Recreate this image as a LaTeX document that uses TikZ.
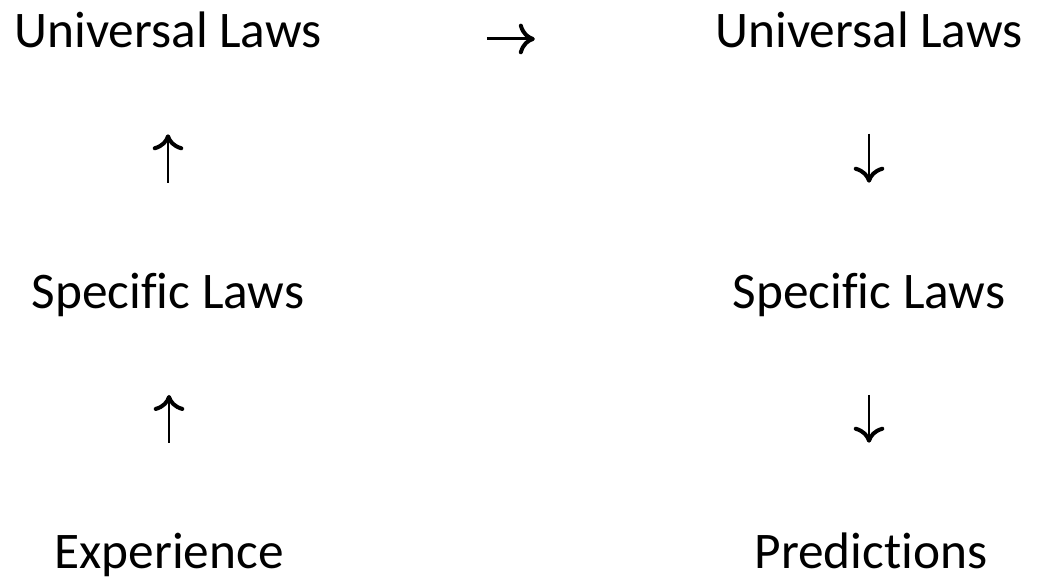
\documentclass[tikz,border=0pt]{standalone}
\usepackage{fontspec}
\setmainfont{Carlito}[Ligatures=CommonOff]
\usetikzlibrary{arrows.meta}
\tikzset{
  lbl/.style={font=\fontsize{38.5}{46}\selectfont, inner sep=0pt, anchor=base,
    text height=24.75pt, text depth=0pt},
  arr/.style={line width=2.2pt, -{Computer Modern Rightarrow[length=12pt,width=23pt,line width=3pt]}}
}
\begin{document}
\begin{tikzpicture}[x=0.75pt,y=-0.75pt]
\useasboundingbox (0,0) rectangle (1037,581);
\node[lbl] (ulL) at (168,48) {Universal Laws};
\node[lbl] (ulR) at (869,48) {Universal Laws};
\node[lbl] (spL) at (168,308) {Specific Laws};
\node[lbl] (spR) at (869,308) {Specific Laws};
\node[lbl] (exp) at (169,568) {Experience};
\node[lbl] (pred) at (871,568) {Predictions};
\draw[arr, shorten <=69pt, shorten >=64.5pt] (spL.north) -- (spL.north |- ulL.south);
\draw[arr, shorten <=69pt, shorten >=65pt] (exp.north) -- (exp.north |- spL.south);
\draw[arr, shorten <=64pt, shorten >=69pt] (ulR.south) -- (ulR.south |- spR.north);
\draw[arr, shorten <=65pt, shorten >=69pt] (spR.south) -- (spR.south |- pred.north);
\draw[arr] ([yshift=-5.6pt]ulL.east) ++(165,0) coordinate (rs) -- ++(48,0) coordinate (re);
\end{tikzpicture}
\end{document}
